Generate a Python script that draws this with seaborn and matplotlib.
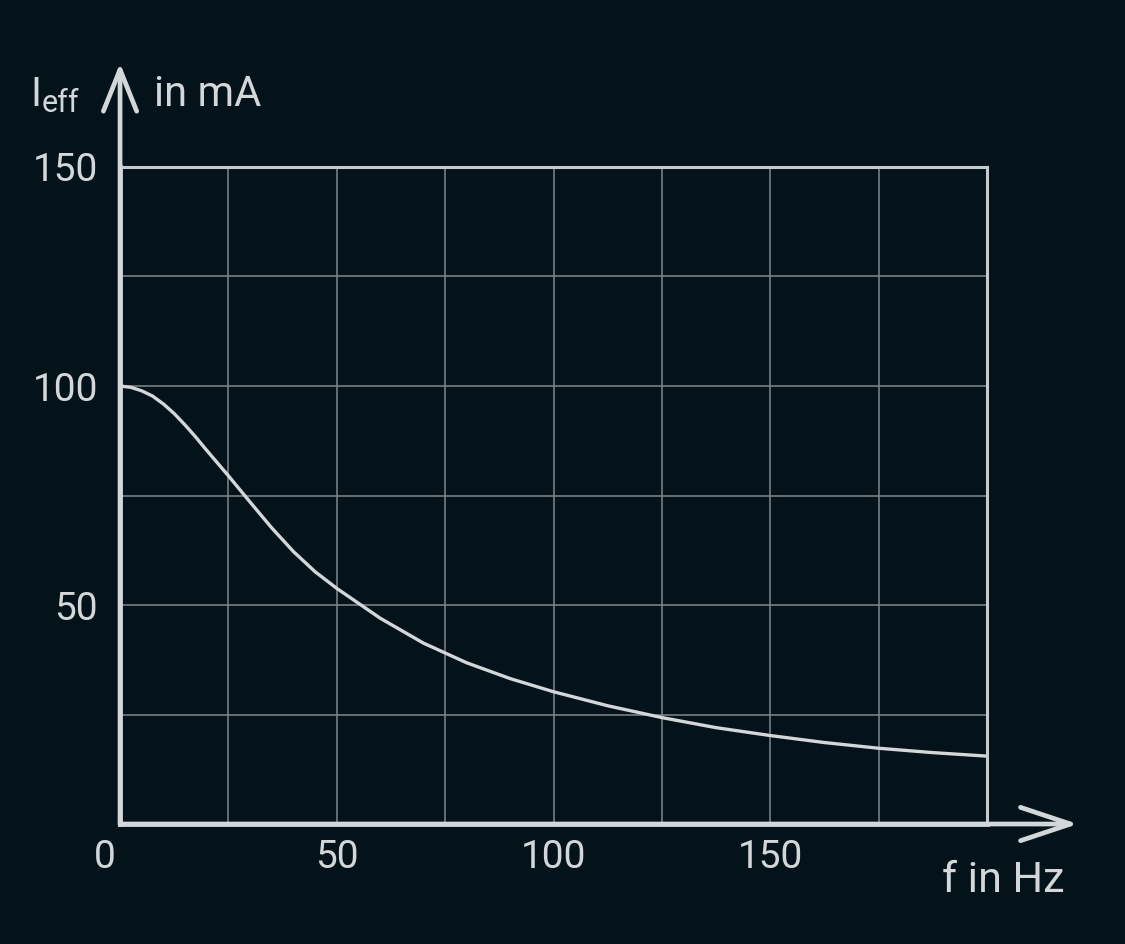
import matplotlib
matplotlib.use('Agg')
import matplotlib.pyplot as plt
import matplotlib.transforms as mtransforms
import seaborn as sns

# -------------------------------------------------------
# Data
# -------------------------------------------------------
freq_hz = [0, 2.5, 5, 7.5, 10, 12.5, 15, 17.5, 20, 25, 30, 35, 40, 45, 50,
           60, 70, 80, 90, 100, 112.5, 125, 137.5, 150, 162.5, 175, 187.5, 200]
current_ma = [100, 99.7, 98.9, 97.7, 95.9, 93.7, 91.1, 88.3, 85.3, 79.5,
              73.5, 67.6, 62.2, 57.6, 53.8, 47.0, 41.3, 36.8, 33.2, 30.2,
              27.0, 24.3, 22.0, 20.2, 18.6, 17.3, 16.3, 15.5]

x_ticks = [0, 25, 50, 75, 100, 125, 150, 175, 200]
x_labels = ["0", "", "50", "", "100", "", "150", "", ""]
y_ticks = [0, 25, 50, 75, 100, 125, 150]
y_labels = ["", "", "50", "", "100", "", "150"]

BG = "#04131a"
FG = "#d3d7d9"
GRID = "#7f868a"

# -------------------------------------------------------
# Style
# -------------------------------------------------------
sns.set_theme(style="dark", rc={
    "figure.facecolor": BG,
    "axes.facecolor": BG,
    "text.color": FG,
    "xtick.color": FG,
    "ytick.color": FG,
})
plt.rcParams['font.family'] = ['Roboto', 'DejaVu Sans']

fig = plt.figure(figsize=(11.25, 9.44), dpi=100)
ax = fig.add_axes([0.1067, 0.1271, 0.7706, 0.6960])

sns.lineplot(x=freq_hz, y=current_ma, ax=ax, color=FG, linewidth=2.4)

ax.set_xlim(0, 200)
ax.set_ylim(0, 150)
ax.set_xticks(x_ticks)
ax.set_xticklabels(x_labels)
ax.set_yticks(y_ticks)
ax.set_yticklabels(y_labels)
ax.tick_params(axis="both", length=0, labelsize=28, colors=FG)
ax.tick_params(axis="x", pad=11)
ax.tick_params(axis="y", pad=16)

# shift the shared "0" to the left of the corner
zero_lbl = ax.get_xticklabels()[0]
zero_lbl.set_transform(zero_lbl.get_transform() +
                       mtransforms.ScaledTranslation(-15 / 100, 0, fig.dpi_scale_trans))

ax.grid(True, color=GRID, linewidth=1.1)
ax.set_axisbelow(True)

for side in ["top", "right"]:
    ax.spines[side].set_color("#c6cacd")
    ax.spines[side].set_linewidth(2.2)
for side in ["left", "bottom"]:
    ax.spines[side].set_color(FG)
    ax.spines[side].set_linewidth(3.4)

# arrow heads on the axes
ax.annotate("", xy=(1.105, 0), xytext=(0, 0), xycoords="axes fraction",
            arrowprops=dict(arrowstyle="->,head_length=1.8,head_width=0.6",
                            lw=3.4, color=FG, shrinkA=0, shrinkB=0,
                            mutation_scale=20, capstyle="round"),
            annotation_clip=False)
ax.annotate("", xy=(0, 1.158), xytext=(0, 0), xycoords="axes fraction",
            arrowprops=dict(arrowstyle="->,head_length=1.5,head_width=0.6",
                            lw=3.4, color=FG, shrinkA=0, shrinkB=0,
                            mutation_scale=20, capstyle="round"),
            annotation_clip=False)

# axis titles
fig.text(30 / 1125, 1 - 106 / 944, "I", fontsize=29, color=FG, va="baseline")
fig.text(42 / 1125, 1 - 112 / 944, "eff", fontsize=22, color=FG, va="baseline")
fig.text(154 / 1125, 1 - 106 / 944, "in mA", fontsize=30, color=FG, va="baseline")
fig.text(942 / 1125, 1 - 892 / 944, "f in Hz", fontsize=31, color=FG, va="baseline")

plt.savefig("out.png", dpi=100, facecolor=BG)
plt.close()
